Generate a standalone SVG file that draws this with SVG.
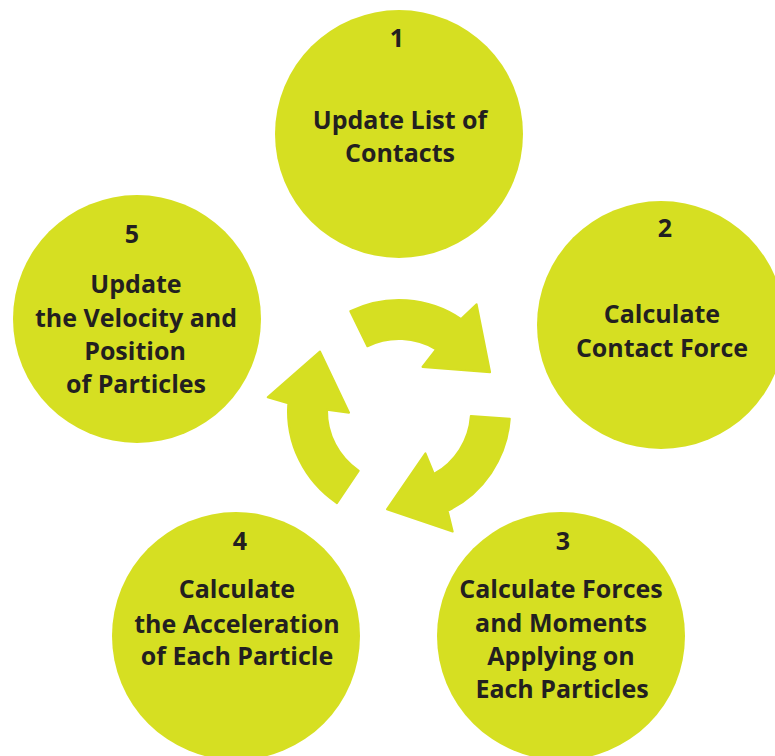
<svg xmlns="http://www.w3.org/2000/svg" width="775" height="756" viewBox="0 0 775 756">
<defs>
<style>
.c{fill:#d6df22}
.t{font-family:"Open Sans","Noto Sans","Liberation Sans",sans-serif;font-weight:700;font-size:25px;fill:#231f20;text-anchor:middle}
.a{fill:#d6df22;stroke:#d6df22;stroke-width:2;stroke-linejoin:round}
</style>
<path id="arr" d="M-48.7,-99.8 A111,111 0 0 1 62.1,-92.0 L77.6,-106.8 L91.1,-38.7 L23.5,-44.1 L37.1,-61.7 A72,72 0 0 0 -31.6,-64.7 Z"/>
</defs>
<rect width="775" height="756" fill="#ffffff"/>
<g id="connectors">
<use href="#arr" class="a" transform="translate(399,411)"/>
<use href="#arr" class="a" transform="translate(399,411) rotate(120)"/>
<use href="#arr" class="a" transform="translate(399,411) rotate(240)"/>
</g>
<g id="node1">
<circle class="c" cx="399" cy="134" r="124"/>
<text class="t" x="397" y="47">1</text>
<text class="t" x="400" y="129">Update List of</text>
<text class="t" x="400" y="162">Contacts</text>
</g>
<g id="node2">
<circle class="c" cx="661" cy="325" r="124"/>
<text class="t" x="665" y="237">2</text>
<text class="t" x="662" y="323">Calculate</text>
<text class="t" x="662" y="357">Contact Force</text>
</g>
<g id="node3">
<circle class="c" cx="561" cy="636" r="124"/>
<text class="t" x="563" y="550">3</text>
<text class="t" x="561" y="598">Calculate Forces</text>
<text class="t" x="561" y="632">and Moments</text>
<text class="t" x="561" y="665">Applying on</text>
<text class="t" x="562" y="698">Each Particles</text>
</g>
<g id="node4">
<circle class="c" cx="236" cy="636" r="124"/>
<text class="t" x="240" y="550">4</text>
<text class="t" x="237" y="598">Calculate</text>
<text class="t" x="237" y="633">the Acceleration</text>
<text class="t" x="237" y="665">of Each Particle</text>
</g>
<g id="node5">
<circle class="c" cx="137" cy="319" r="124"/>
<text class="t" x="132" y="243">5</text>
<text class="t" x="136" y="293">Update</text>
<text class="t" x="136" y="327">the Velocity and</text>
<text class="t" x="135" y="360">Position</text>
<text class="t" x="136" y="393">of Particles</text>
</g>
</svg>
